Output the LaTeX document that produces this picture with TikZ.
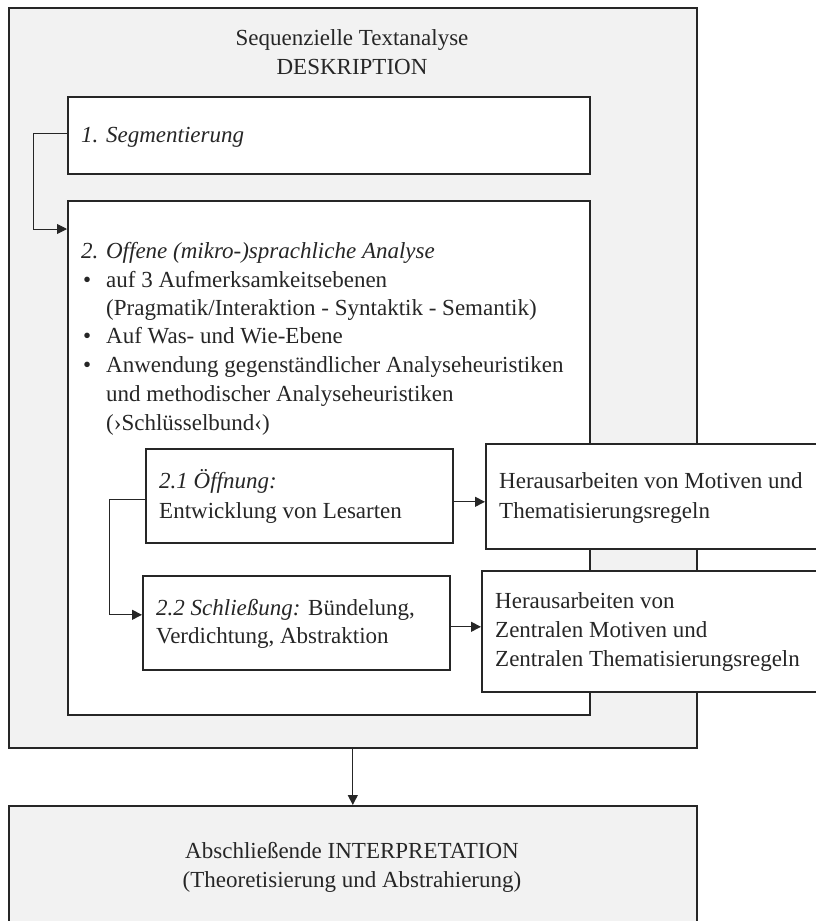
\documentclass[tikz,border=0pt]{standalone}
\usepackage{fontspec}
\setmainfont{Liberation Serif}
\usetikzlibrary{arrows.meta,calc}
\definecolor{panelgray}{HTML}{F2F2F2}
\begin{document}
\begin{tikzpicture}[x=1pt,y=-1pt,
  box/.style={draw=black!85,line width=1.6pt,fill=white,inner sep=0pt,anchor=north west},
  graybox/.style={box,fill=panelgray},
  txt/.style={inner sep=0pt,font=\fontsize{23pt}{29pt}\selectfont,text=black!85},
  tl/.style={txt,anchor=base west},
  tc/.style={txt,anchor=base},
  conn/.style={draw=black!85,line width=0.9pt},
  arr/.style={conn,-{Triangle[length=10pt,width=10pt]}}]
\useasboundingbox (0,0) rectangle (816,921);
% boxes
\node[graybox,minimum width=688pt,minimum height=740pt] (outer) at (8,7) {};
\node[box,minimum width=522pt,minimum height=77pt] (b1) at (67,96) {};
\node[box,minimum width=522pt,minimum height=514pt] (b2) at (67,200) {};
\node[box,minimum width=307pt,minimum height=94pt] (b21) at (145,448) {};
\node[box,minimum width=307pt,minimum height=94pt] (b22) at (142,575) {};
\node[box,minimum width=345pt,minimum height=105pt] (h1) at (485,443) {};
\node[box,minimum width=345pt,minimum height=121pt] (h2) at (481,570) {};
\node[graybox,minimum width=688pt,minimum height=130pt] (fin) at (8,805) {};
% texts
\node[tc] (t1) at (352,45) {Sequenzielle Textanalyse};
\node[tc] (t2) at (352,74) {DESKRIPTION};
\node[tl] (s1) at (81,142) {\itshape 1. Segmentierung};
\node[tl] (s2) at (81,258) {\itshape 2. Offene (mikro-)sprachliche Analyse};
\node[tl] (p1) at (83,287) {•};
\node[tl] (l1) at (106,287) {auf 3 Aufmerksamkeitsebenen};
\node[tl] (l2) at (106,315) {(Pragmatik/Interaktion - Syntaktik - Semantik)};
\node[tl] (p3) at (83,343) {•};
\node[tl] (l3) at (106,343) {Auf Was- und Wie-Ebene};
\node[tl] (p4) at (83,372) {•};
\node[tl] (l4) at (106,372) {Anwendung gegenständlicher Analyseheuristiken};
\node[tl] (l5) at (106,401) {und methodischer Analyseheuristiken};
\node[tl] (l6) at (106,430) {(›Schlüsselbund‹)};
\node[tl] (a1) at (159,488) {\itshape 2.1 Öffnung:};
\node[tl] (a2) at (159,518) {Entwicklung von Lesarten};
\node[tl] (c1) at (156,615) {\textit{2.2 Schließung:} Bündelung,};
\node[tl] (c2) at (156,643) {Verdichtung, Abstraktion};
\node[tl] (m1) at (499,488) {Herausarbeiten von Motiven und};
\node[tl] (m2) at (499,518) {Thematisierungsregeln};
\node[tl] (n1) at (495,608) {Herausarbeiten von};
\node[tl] (n2) at (495,637) {Zentralen Motiven und};
\node[tl] (n3) at (495,666) {Zentralen Thematisierungsregeln};
\node[tc] (f1) at (352,858) {Abschließende INTERPRETATION};
\node[tc] (f2) at (352,887) {(Theoretisierung und Abstrahierung)};
% connector anchors
\coordinate (k1) at ($(b1.west)+(0,-2)$);
\coordinate (k2) at ($(b2.north west)+(0,29)$);
\coordinate (k3) at ($(b21.west)+(0,4)$);
\coordinate (k4) at ($(b22.west)+(0,-8)$);
\coordinate (k5) at ($(b21.east)+(0,6)$);
\coordinate (k6) at ($(b22.east)+(0,4)$);
% connectors
\draw[arr] (k1) -- ++(-34,0) |- (k2);
\draw[arr] (k3) -- ++(-36,0) |- (k4);
\draw[arr] (k5) -- (k5 -| h1.west);
\draw[arr] (k6) -- (k6 -| h2.west);
\draw[arr] (outer.south) -- (fin.north);
\end{tikzpicture}
\end{document}
